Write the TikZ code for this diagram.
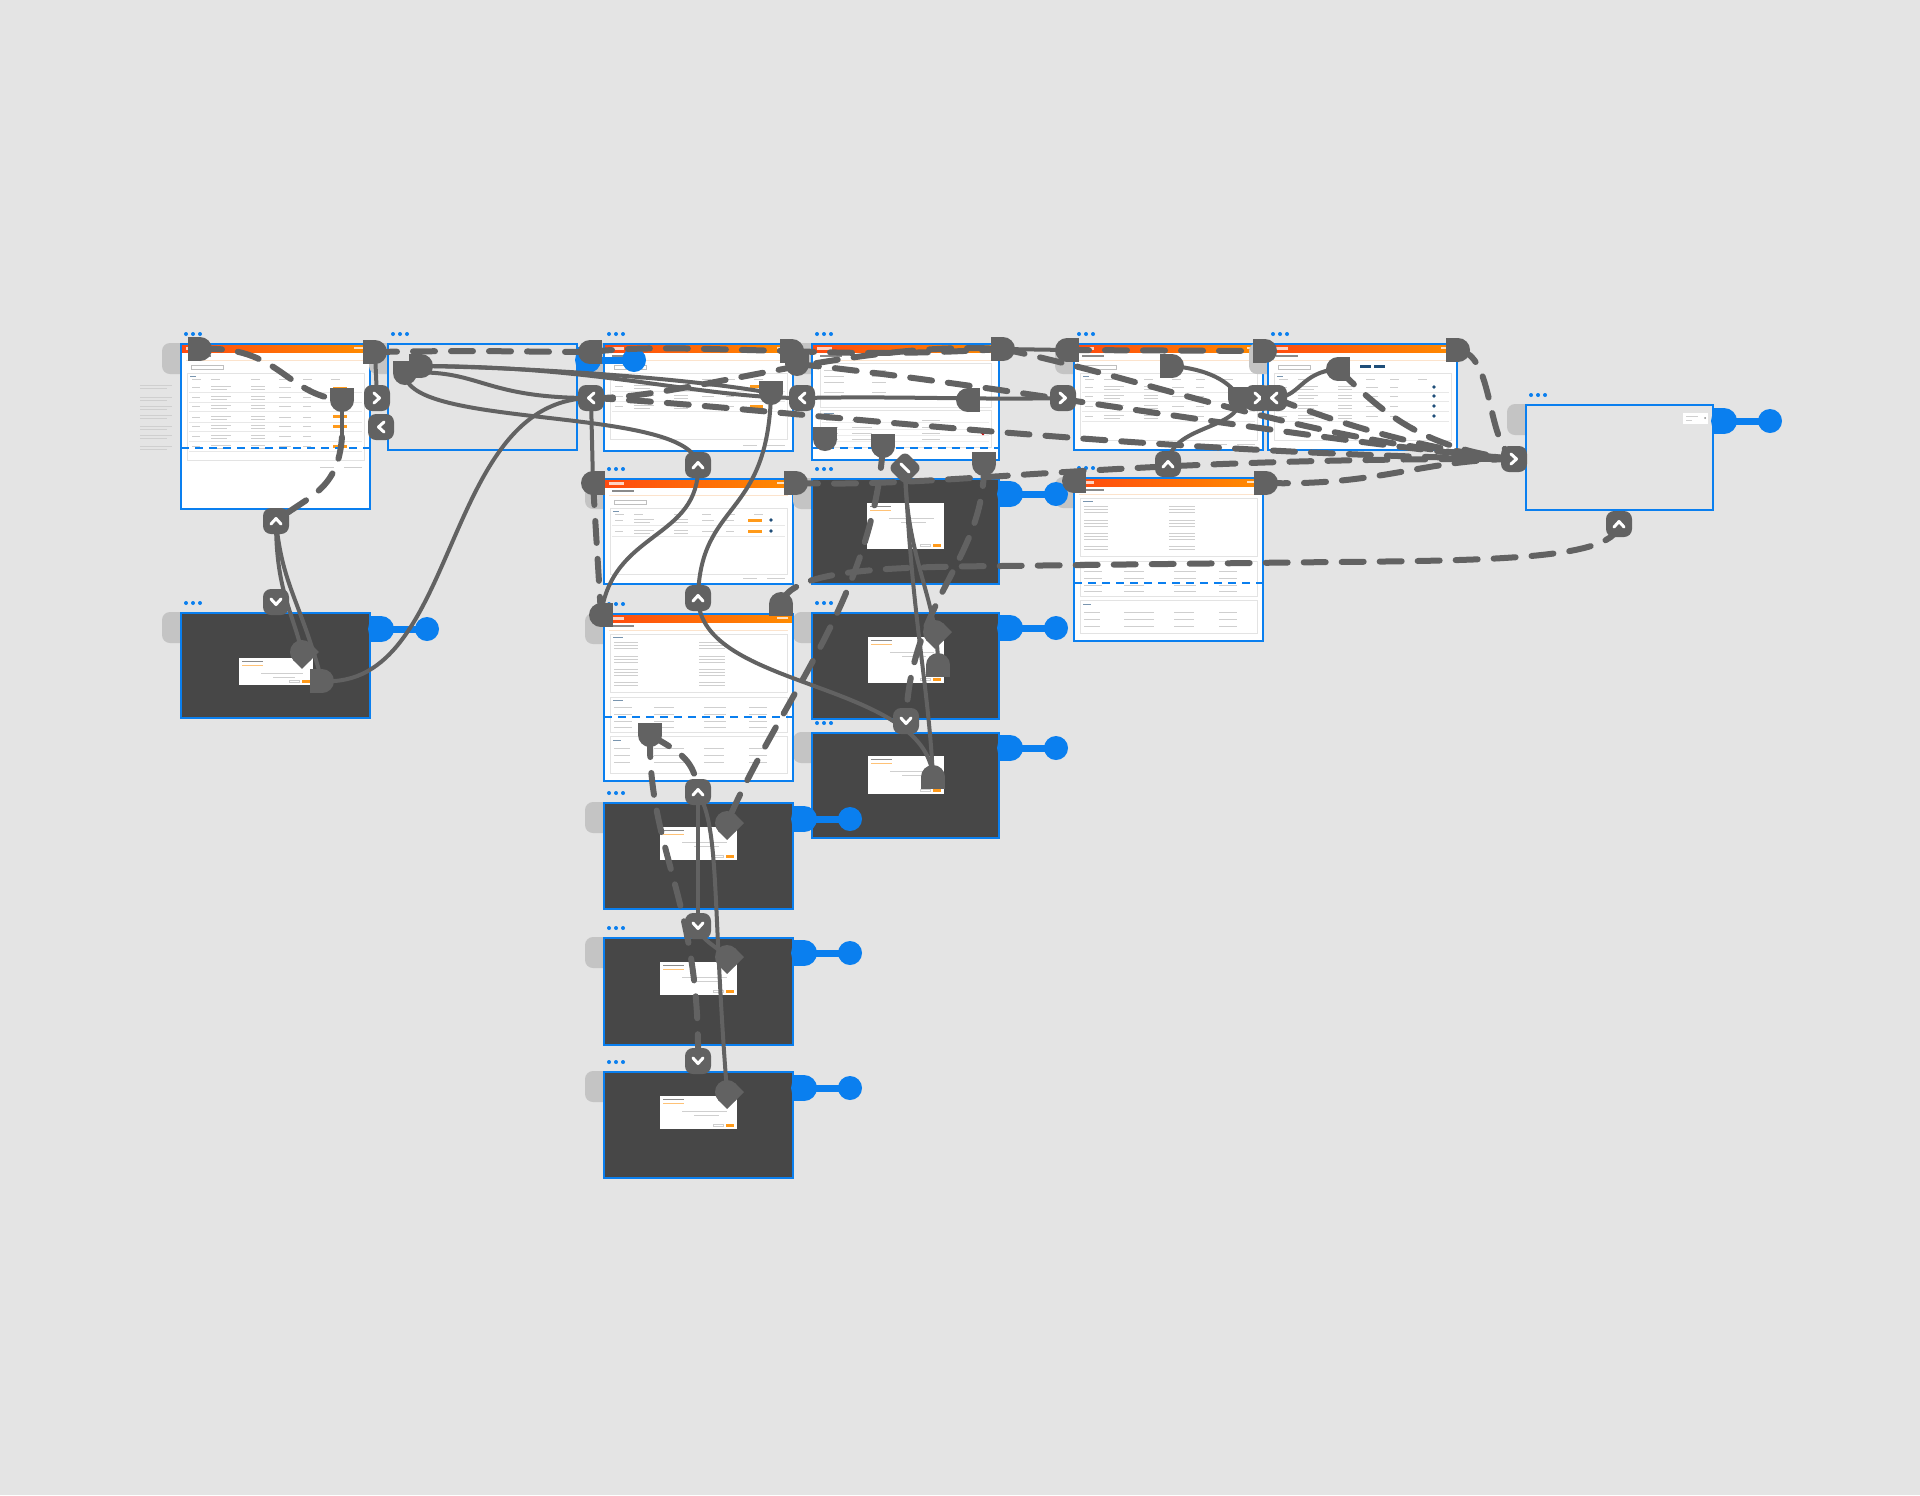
\documentclass[tikz,border=0pt]{standalone}
\definecolor{bgc}{HTML}{E4E4E4}
\definecolor{bblue}{HTML}{0A7FEF}
\definecolor{cgray}{HTML}{626262}
\definecolor{darkb}{HTML}{474747}
\definecolor{tabg}{HTML}{C4C4C4}
\definecolor{hdrL}{HTML}{FF4A10}
\definecolor{hdrR}{HTML}{FF8C00}
\definecolor{txtl}{HTML}{CFCFCF}
\definecolor{txtd}{HTML}{8A8A8A}
\definecolor{sepc}{HTML}{FCE3CC}
\definecolor{btn}{HTML}{FF9A1A}
\definecolor{navy}{HTML}{1F4E79}
\tikzset{
  chv/.pic={\fill[cgray,rounded corners=4pt] (-13,-13) rectangle (13,13);
            \draw[white,line width=1.5pt,line cap=round,line join=round] (-5,3) -- (0,-2.5) -- (5,3);},
  dgn/.pic={\fill[cgray,rounded corners=3pt,rotate=45] (-12,-12) rectangle (12,12);
            \draw[white,line width=1.5pt,line cap=round] (-4,-4) -- (4,4);},
  dh/.pic={\fill[cgray] (-12,-12) rectangle (0.5,12); \fill[cgray] (0,0) circle (12);},
  conn/.style={draw=cgray,line width=2pt,line cap=round},
  dconn/.style={draw=cgray,line width=3pt,line cap=round,dash pattern=on 11pt off 8pt},
  fold/.style={draw=bblue,line width=0.9pt,dash pattern=on 4pt off 3pt}
}
% board: x0 y0 w h fill content
\newcommand\brd[6]{%
 \begin{scope}[shift={(#1,#2)}]
  \fill[tabg,rounded corners=4pt] (14,-1) -- (-19,-1) -- (-19,30) -- (14,30) -- cycle;
  \fill[bblue] (5,-10) circle (2) (12,-10) circle (2) (19,-10) circle (2);
  \fill[#5] (0,0) rectangle (#3,#4);
  #6
  \draw[bblue,line width=1.2pt] (0,0) rectangle (#3,#4);
 \end{scope}}
\newcommand\hdrbar[1]{%
  \shade[left color=hdrL,right color=hdrR] (0,0) rectangle (#1,8);
  \fill[white,opacity=.75] (5,2.5) rectangle (20,5.5);
  \fill[white,opacity=.75] (#1-16,3) rectangle (#1-5,5);
  \fill[txtd] (8,11) rectangle (30,12.5);
  \fill[sepc] (5,16) rectangle (#1-5,17.2);}
\newcommand\trow[2]{%
  \draw[gray!18,line width=.25pt] (8,#1+5) -- (#2-8,#1+5);
  \fill[txtl] (11,#1) rectangle ++(8,1.2);
  \fill[txtl] (30,#1-1.5) rectangle ++(20,1.2);
  \fill[txtl] (30,#1+1.5) rectangle ++(16,1.2);
  \fill[txtl] (70,#1-1.5) rectangle ++(14,1.2);
  \fill[txtl] (70,#1+1.5) rectangle ++(14,1.2);
  \fill[txtl] (98,#1) rectangle ++(12,1.2);
  \fill[txtl] (122,#1) rectangle ++(8,1.2);}
\newcommand\tblframe[3]{% w, bottom of card, pagination y
  \draw[gray!50,line width=.3pt] (10,21) rectangle (42,25.5);
  \draw[gray!22,line width=.3pt] (6,29) rectangle (#1-6,#2);
  \fill[navy!60] (9,31.5) rectangle ++(6,1.2);
  \foreach \cx in {11,30,70,98,122,150} {\fill[txtl] (\cx,35) rectangle ++(9,1);}
  \fill[txtl] (#1-50,#3) rectangle ++(14,1.2);
  \fill[txtl] (#1-26,#3) rectangle ++(18,1.2);}
\newcommand\dtl[2]{% w, h  (detail screen)
  \draw[gray!22,line width=.3pt] (6,20) rectangle (#1-6,78);
  \fill[navy!60] (9,23) rectangle ++(10,1.2);
  \foreach \yy in {28,31,34,42,45,48,55,58,61,68,71} {
    \fill[txtl] (10,\yy) rectangle ++(24,1.1);
    \fill[txtl] (95,\yy) rectangle ++(26,1.1);}
  \draw[gray!22,line width=.3pt] (6,83) rectangle (#1-6,118);
  \fill[navy!60] (9,86) rectangle ++(10,1.2);
  \foreach \yy in {93,100,107,113} {
    \fill[txtl] (10,\yy) rectangle ++(18,1.1);
    \fill[txtl] (50,\yy) rectangle ++(20,1.1);
    \fill[txtl] (100,\yy) rectangle ++(22,1.1);
    \fill[txtl] (145,\yy) rectangle ++(18,1.1);}
  \draw[gray!22,line width=.3pt] (6,122) rectangle (#1-6,#2-8);
  \fill[navy!60] (9,126) rectangle ++(8,1.2);
  \foreach \yy in {134,141,148} {
    \fill[txtl] (10,\yy) rectangle ++(16,1.1);
    \fill[txtl] (50,\yy) rectangle ++(30,1.1);
    \fill[txtl] (100,\yy) rectangle ++(20,1.1);
    \fill[txtl] (145,\yy) rectangle ++(18,1.1);}}
\newcommand\dlg[4]{%
  \fill[white] (#1,#2) rectangle (#3,#4);
  \fill[txtd] (#1+3,#2+3) rectangle (#1+24,#2+4.2);
  \fill[btn!60] (#1+3,#2+6.5) rectangle (#1+24,#2+7.3);
  \fill[txtl] (#1+22,#2+15) rectangle (#3-10,#2+16.2);
  \fill[txtl] (#1+34,#2+19) rectangle (#3-18,#2+20.2);
  \fill[btn] (#3-11,#4-5) rectangle (#3-3,#4-2.5);
  \draw[txtl,line width=.3pt] (#3-24,#4-5) rectangle (#3-14,#4-2.5);}
\newcommand\bstart[2]{%
  \fill[bblue] (#1-1,#2-13) rectangle (#1+11,#2+13);
  \fill[bblue] (#1+11,#2) circle (13);
  \draw[bblue,line width=3.5pt] (#1+15,#2) -- (#1+57,#2);
  \fill[bblue] (#1+57,#2) circle (12);}

\begin{document}
\begin{tikzpicture}[x=0.5pt,y=-0.5pt]
\fill[bgc] (0,0) rectangle (1920,1495);
\useasboundingbox (0,0) rectangle (1920,1495);

% notes left of the first screen
\foreach \yy in {385,397,406,415,426,435,446} {
  \fill[txtl] (140,\yy) rectangle ++(32,1.2);
  \fill[txtl] (140,\yy+3) rectangle ++(27,1.2);}

% ---------- screens ----------
\brd{181}{344}{189}{165}{white}{\hdrbar{189}\tblframe{189}{116}{123}
  \foreach \yy in {43,53,62,73,82,92,102} {\trow{\yy}{189}}
  \foreach \yy in {44,62,72,82,102} {\fill[btn] (152,\yy-1) rectangle ++(14,3);}
  \draw[fold] (0,104) -- (189,104);}
\brd{388}{344}{189}{106}{bgc}{}
\brd{604}{344}{189}{107}{white}{\hdrbar{189}\tblframe{189}{95}{101}
  \foreach \yy in {42,52,62} {\trow{\yy}{189}}
  \foreach \yy in {42,62} {\fill[btn] (146,\yy-1) rectangle ++(13,3);}}
\brd{812}{344}{187}{116}{white}{\hdrbar{187}
  \draw[gray!22,line width=.3pt] (8,19) rectangle (179,63);
  \foreach \yy in {26,32,38,48,54} {\fill[txtl] (12,\yy) rectangle ++(20,1.1); \fill[txtl] (60,\yy) rectangle ++(14,1.1);}
  \draw[gray!22,line width=.3pt] (8,66) rectangle (179,103);
  \fill[navy!60] (12,69) rectangle ++(10,1.2);
  \foreach \yy in {76,83,89,95} {\draw[gray!15,line width=.25pt] (10,\yy+2.5) -- (177,\yy+2.5);
     \fill[txtl] (14,\yy) rectangle ++(12,1.1); \fill[txtl] (40,\yy) rectangle ++(20,1.1); \fill[txtl] (110,\yy) rectangle ++(18,1.1);}
  \fill[red!80!black] (171,89.5) circle (1.8);
  \fill[btn] (166,108) rectangle ++(12,2);
  \draw[fold] (0,104) -- (187,104);}
\brd{604}{479}{189}{105}{white}{\hdrbar{189}\tblframe{189}{95}{99}
  \foreach \yy in {41,52} {\trow{\yy}{189} \fill[btn] (144,\yy-1) rectangle ++(14,3); \fill[navy] (167,\yy) circle (1.8);}}
\brd{812}{479}{187}{105}{darkb}{\dlg{55}{24}{132}{70}}
\brd{812}{613}{187}{106}{darkb}{\dlg{56}{24}{132}{70}}
\brd{812}{733}{187}{105}{darkb}{\dlg{56}{23}{132}{61}}
\brd{604}{614}{189}{167}{white}{\hdrbar{189}\dtl{189}{167}\draw[fold] (0,103) -- (189,103);}
\brd{604}{803}{189}{106}{darkb}{\dlg{56}{24}{133}{57}}
\brd{604}{938}{189}{107}{darkb}{\dlg{56}{24}{133}{57}}
\brd{604}{1072}{189}{106}{darkb}{\dlg{56}{24}{133}{57}}
\brd{181}{613}{189}{105}{darkb}{\dlg{58}{45}{132}{72}}
\brd{1074}{344}{189}{106}{white}{\hdrbar{189}\tblframe{189}{96}{100}
  \foreach \yy in {43,52,62,72} {\trow{\yy}{189}}}
\brd{1074}{478}{189}{163}{white}{\hdrbar{189}\dtl{189}{163}\draw[fold] (0,105) -- (189,105);}
\brd{1268}{344}{189}{106}{white}{\hdrbar{189}\tblframe{189}{96}{100}
  \fill[navy] (92,20.5) rectangle ++(11,3); \fill[navy] (106,20.5) rectangle ++(11,3);
  \foreach \yy in {43,52,62,72} {\trow{\yy}{189} \fill[navy] (166,\yy) circle (1.8);}}
\brd{1526}{405}{187}{105}{bgc}{\fill[white] (157,8) rectangle (182,19);
  \fill[txtl] (160,11) rectangle ++(12,1); \fill[txtl] (160,15) rectangle ++(6,1); \fill[txtd] (179,13) circle (1);}

% ---------- flow starts ----------
\bstart{577}{360}
\bstart{370}{629}
\bstart{999}{494}
\bstart{999}{628}
\bstart{999}{748}
\bstart{793}{819}
\bstart{793}{953}
\bstart{793}{1088}
\bstart{1713}{421}

% ---------- handle positions ----------
\coordinate (dA1) at (200,349);
\coordinate (dA2) at (342,400);
\coordinate (aStem) at (342,437);
\coordinate (chAb) at (276,521);
\coordinate (chCt) at (276,602);
\coordinate (chAr) at (377,398);
\coordinate (chBl) at (381,427);
\coordinate (dB1) at (375,352);
\coordinate (dB2) at (405,373);
\coordinate (dB2b) at (421,366);
\coordinate (dB3) at (590,352);
\coordinate (dC1) at (302,652);
\coordinate (dC2) at (322,681);
\coordinate (chDl) at (591,398);
\coordinate (dD1) at (792,351);
\coordinate (dD1b) at (797,364);
\coordinate (dD2) at (771,393);
\coordinate (chEl) at (802,398);
\coordinate (chFt) at (698,465);
\coordinate (dF1) at (593,483);
\coordinate (dF2) at (601,615);
\coordinate (dG1) at (796,483);
\coordinate (dE1) at (825,439);
\coordinate (dE2) at (883,446);
\coordinate (dE3) at (968,400);
\coordinate (dE4) at (984,464);
\coordinate (dE5) at (1003,349);
\coordinate (chGx) at (905,468);
\coordinate (dN1) at (1067,350);
\coordinate (chNl) at (1063,398);
\coordinate (dN2) at (1172,366);
\coordinate (dN3) at (1240,399);
\coordinate (chNr) at (1258,398);
\coordinate (chPl) at (1274,398);
\coordinate (dN4) at (1265,351);
\coordinate (dP1) at (1338,369);
\coordinate (dP2) at (1458,350);
\coordinate (chOt) at (1168,464);
\coordinate (dO1) at (1074,481);
\coordinate (dO2) at (1266,483);
\coordinate (chQl) at (1514,459);
\coordinate (chQb) at (1619,524);
\coordinate (qMid) at (1250,563);
\coordinate (jMid) at (1000,566);
\coordinate (dJ0) at (781,604);
\coordinate (chJt) at (698,598);
\coordinate (dJ1) at (650,735);
\coordinate (chKt) at (698,792);
\coordinate (dK1) at (727,823);
\coordinate (chLt) at (698,926);
\coordinate (dL1) at (727,957);
\coordinate (chMt) at (698,1061);
\coordinate (dM1) at (727,1092);
\coordinate (dH1) at (935,632);
\coordinate (dH2) at (938,665);
\coordinate (chIt) at (906,721);
\coordinate (dI1) at (933,777);

% ---------- solid connectors ----------
\draw[conn] (dA2) -- (aStem);
\draw[conn] (chAb) .. controls (276,590) and (292,610) .. (dC1);
\draw[conn] (chAb) .. controls (282,585) and (300,600) .. (dC2);
\draw[conn] (dC2) .. controls (460,690) and (440,400) .. (chDl);
\draw[conn] (dB1) -- (chAr);
\draw[conn] (dB2b) .. controls (600,366) and (700,398) .. (chEl);
\draw[conn] (dB2b) .. controls (550,368) and (700,380) .. (dD2);
\draw[conn] (dB2) .. controls (480,368) and (480,398) .. (chDl);
\draw[conn] (dB2) .. controls (405,430) and (690,405) .. (chFt);
\draw[conn] (chFt) .. controls (700,540) and (612,530) .. (dF2);
\draw[conn] (dD2) .. controls (768,520) and (700,500) .. (chJt);
\draw[conn] (chJt) .. controls (700,690) and (925,680) .. (dI1);
\draw[conn] (chGx) .. controls (906,560) and (938,600) .. (dH2);
\draw[conn] (chGx) .. controls (912,620) and (928,680) .. (dI1);
\draw[conn] (chKt) -- (chLt);
\draw[conn] (chKt) .. controls (720,830) and (712,900) .. (dM1);
\draw[conn] (chLt) .. controls (700,940) and (715,945) .. (dL1);
\draw[conn] (chEl) .. controls (900,396) and (980,400) .. (chNl);
\draw[conn] (dE5) -- (dN1);
\draw[conn] (dN2) .. controls (1215,370) and (1232,385) .. (dN3);
\draw[conn] (dN3) .. controls (1240,430) and (1170,425) .. (chOt);
\draw[conn] (dP1) .. controls (1300,372) and (1300,398) .. (chPl);
\draw[conn] (chDl) -- (dF1);

% ---------- dashed connectors ----------
\draw[dconn] (dA1) .. controls (280,345) and (285,395) .. (dA2);
\draw[dconn] (aStem) .. controls (338,490) and (310,495) .. (chAb);
\draw[dconn] (dB1) .. controls (480,350) and (540,352) .. (dB3);
\draw[dconn] (dB3) .. controls (650,345) and (720,350) .. (dD1);
\draw[dconn] (dD1) .. controls (880,355) and (950,352) .. (dE5);
\draw[dconn] (chDl) .. controls (680,400) and (850,340) .. (dE5);
\draw[dconn] (dD1b) .. controls (1000,385) and (1300,440) .. (chQl);
\draw[dconn] (chDl) .. controls (750,405) and (1100,452) .. (chQl);
\draw[dconn] (dE5) .. controls (1150,380) and (1300,440) .. (chQl);
\draw[dconn] (dN1) -- (dN4);
\draw[dconn] (dP1) .. controls (1380,410) and (1420,448) .. (chQl);
\draw[dconn] (dP2) .. controls (1495,355) and (1485,440) .. (chQl);
\draw[dconn] (dO2) .. controls (1380,486) and (1420,460) .. (chQl);
\draw[dconn] (dG1) .. controls (950,488) and (1100,458) .. (chQl);
\draw[dconn] (chPl) .. controls (1330,420) and (1420,450) .. (chQl);
\draw[dconn] (chQb) .. controls (1615,565) and (1450,560) .. (qMid) -- (jMid) .. controls (880,567) and (790,570) .. (dJ0);
\draw[dconn] (dE4) .. controls (985,560) and (910,600) .. (chIt);
\draw[dconn] (dE2) .. controls (872,600) and (780,700) .. (dK1);
\draw[dconn] (dJ1) .. controls (648,850) and (700,900) .. (chMt);
\draw[dconn] (dJ1) .. controls (680,752) and (695,760) .. (chKt);
\draw[dconn] (dF1) -- (dF2);

% ---------- handles ----------
\pic at (chAb) {chv};
\pic[rotate=180] at (chCt) {chv};
\pic[rotate=-90] at (chAr) {chv};
\pic[rotate=90] at (chBl) {chv};
\pic[rotate=90] at (chDl) {chv};
\pic[rotate=90] at (chEl) {chv};
\pic at (chFt) {chv};
\pic at (chJt) {chv};
\pic at (chKt) {chv};
\pic[rotate=180] at (chLt) {chv};
\pic[rotate=180] at (chMt) {chv};
\pic[rotate=180] at (chIt) {chv};
\pic[rotate=-90] at (chNl) {chv};
\pic[rotate=-90] at (chNr) {chv};
\pic[rotate=90] at (chPl) {chv};
\pic at (chOt) {chv};
\pic[rotate=-90] at (chQl) {chv};
\pic at (chQb) {chv};
\pic at (chGx) {dgn};

\pic at (dA1) {dh};
\pic[rotate=-90] at (dA2) {dh};
\pic at (dB1) {dh};
\pic[rotate=-90] at (dB2) {dh};
\pic at (dB2b) {dh};
\pic[rotate=180] at (dB3) {dh};
\pic[rotate=135] at (dC1) {dh};
\pic at (dC2) {dh};
\pic at (dD1) {dh};
\pic[rotate=-90] at (dD1b) {dh};
\pic[rotate=-90] at (dD2) {dh};
\pic[rotate=180] at (dF1) {dh};
\pic[rotate=180] at (dF2) {dh};
\pic at (dG1) {dh};
\pic[rotate=-90] at (dE1) {dh};
\pic[rotate=-90] at (dE2) {dh};
\pic[rotate=180] at (dE3) {dh};
\pic[rotate=-90] at (dE4) {dh};
\pic at (dE5) {dh};
\pic[rotate=180] at (dN1) {dh};
\pic at (dN2) {dh};
\pic[rotate=-90] at (dN3) {dh};
\pic at (dN4) {dh};
\pic[rotate=180] at (dP1) {dh};
\pic at (dP2) {dh};
\pic[rotate=180] at (dO1) {dh};
\pic at (dO2) {dh};
\pic[rotate=90] at (dJ0) {dh};
\pic[rotate=-90] at (dJ1) {dh};
\pic[rotate=135] at (dK1) {dh};
\pic[rotate=135] at (dL1) {dh};
\pic[rotate=135] at (dM1) {dh};
\pic[rotate=135] at (dH1) {dh};
\pic[rotate=90] at (dH2) {dh};
\pic[rotate=90] at (dI1) {dh};
\end{tikzpicture}
\end{document}
